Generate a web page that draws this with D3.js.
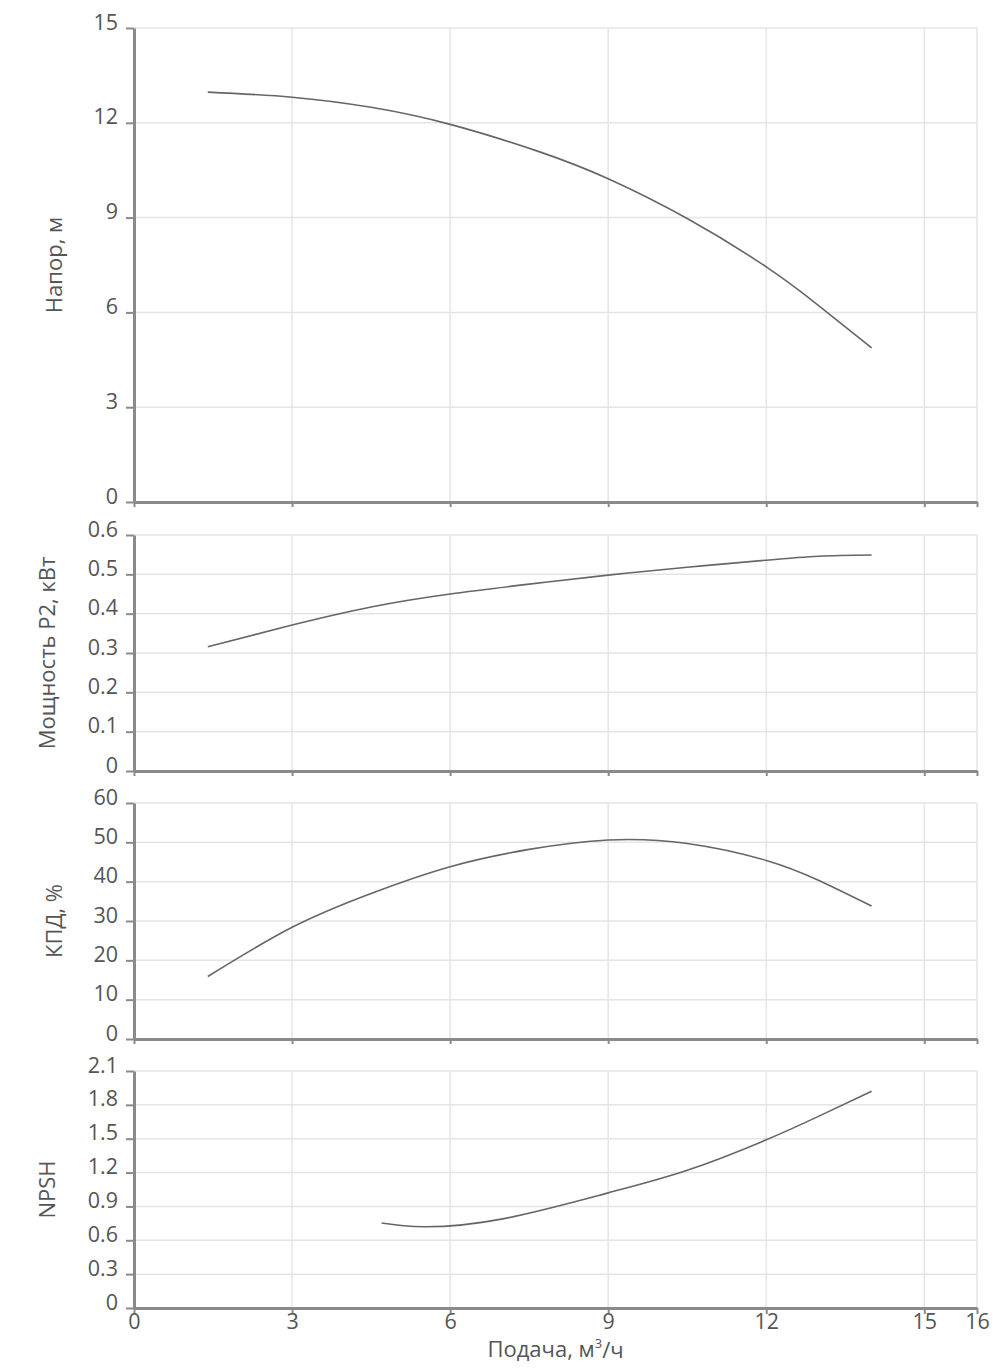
<!DOCTYPE html>
<meta charset="utf-8">
<style>
  body { margin: 0; background: #fff; }
  svg { display: block; }
  .grid line { stroke: #e4e4ea; stroke-width: 1.5; }
  .axis path, .axis line { stroke: #8a8a8a; }
  .axis path { stroke-width: 3; }
  .axis line { stroke-width: 2; }
  .axis text { fill: #555; font-family: "Open Sans", sans-serif; font-size: 21.5px; }
  .title { fill: #555; font-family: "Open Sans", sans-serif; font-size: 22px; }
  .curve { fill: none; stroke: #666; stroke-width: 1.6; }
</style>
<body></body>
<script src="https://cdn.jsdelivr.net/npm/d3@7"></script>
<script>
  // x axis (подача)
  const xTicks = [0, 3, 6, 9, 12, 15, 16];

  // напор
  const headFlow = [1.4, 3, 4.5, 6, 7.7, 9, 10.5, 12, 13, 14];
  const head = [12.97, 12.81, 12.49, 11.95, 11.08, 10.23, 8.97, 7.44, 6.21, 4.88];
  const headTicks = [0, 3, 6, 9, 12, 15];

  // мощность P2
  const powerFlow = [1.4, 3, 4.5, 6, 7.5, 9, 10.5, 12, 13, 14];
  const power = [0.316, 0.371, 0.417, 0.450, 0.475, 0.498, 0.518, 0.536, 0.546, 0.549];
  const powerTicks = ['0', '0.1', '0.2', '0.3', '0.4', '0.5', '0.6'];

  // КПД
  const effFlow = [1.4, 3, 4.5, 6, 7.5, 9, 10.5, 12, 13, 14];
  const eff = [15.9, 28.4, 37.0, 43.8, 48.2, 50.6, 49.7, 45.4, 40.3, 33.8];
  const effTicks = [0, 10, 20, 30, 40, 50, 60];

  // NPSH
  const npshFlow = [4.7, 5.5, 7, 9, 10.5, 12, 13, 14];
  const npsh = [0.753, 0.72, 0.79, 1.02, 1.22, 1.49, 1.70, 1.92];
  const npshTicks = ['0', '0.3', '0.6', '0.9', '1.2', '1.5', '1.8', '2.1'];

  const W = 1000, H = 1371;
  const l = 134, r = 977;

  const svg = d3.select('body').append('svg')
    .attr('width', W).attr('height', H);

  const x = d3.scaleLinear().domain([0, 16]).range([l, r]);

  const panels = [
    {title: 'Напор, м', top: 28, bottom: 502, ticks: headTicks, fx: headFlow, fy: head, titleX: 62},
    {title: 'Мощность P2, кВт', top: 535, bottom: 771, ticks: powerTicks, fx: powerFlow, fy: power, titleX: 55},
    {title: 'КПД, %', top: 803, bottom: 1039, ticks: effTicks, fx: effFlow, fy: eff, titleX: 62},
    {title: 'NPSH', top: 1071, bottom: 1308, ticks: npshTicks, fx: npshFlow, fy: npsh, titleX: 55},
  ];

  panels.forEach((p, i) => {
    const tv = p.ticks.map(Number);
    const y = d3.scaleLinear().domain([0, d3.max(tv)]).range([p.bottom, p.top]);
    const g = svg.append('g');

    // grid
    const grid = g.append('g').attr('class', 'grid');
    grid.selectAll('line.h')
      .data(tv.filter(d => d > 0))
      .join('line').attr('class', 'h')
      .attr('x1', l).attr('x2', r)
      .attr('y1', d => y(d)).attr('y2', d => y(d));
    grid.selectAll('line.v')
      .data(xTicks.filter(d => d > 0))
      .join('line').attr('class', 'v')
      .attr('x1', d => x(d)).attr('x2', d => x(d))
      .attr('y1', p.top).attr('y2', p.bottom);

    // curve
    const pts = p.fx.map((fx, k) => [fx, p.fy[k]]);
    g.append('path')
      .attr('class', 'curve')
      .attr('d', d3.line()
        .x(d => x(d[0])).y(d => y(d[1]))
        .curve(d3.curveNatural)(pts));

    // left axis
    const ya = g.append('g').attr('class', 'axis')
      .attr('transform', `translate(${l},0)`)
      .call(d3.axisLeft(y).tickValues(tv)
        .tickFormat((d, k) => p.ticks[k])
        .tickSize(8).tickSizeOuter(0).tickPadding(8));
    ya.selectAll('text').attr('dy', '0.05em');

    // bottom axis
    const last = i === panels.length - 1;
    const xa = g.append('g').attr('class', 'axis')
      .attr('transform', `translate(0,${p.bottom})`)
      .call(d3.axisBottom(x).tickValues(xTicks)
        .tickSize(last ? 6 : 5).tickSizeOuter(0).tickPadding(0)
        .tickFormat(last ? d3.format('d') : () => ''));
    xa.selectAll('text').attr('dy', '0.72em');

    // title
    g.append('text')
      .attr('class', 'title')
      .attr('text-anchor', 'middle')
      .attr('transform', `translate(${p.titleX},${(p.top + p.bottom) / 2}) rotate(-90)`)
      .text(p.title);
  });

  const xt = svg.append('text')
    .attr('class', 'title')
    .attr('text-anchor', 'middle')
    .attr('x', (l + r) / 2).attr('y', 1357);
  xt.append('tspan').text('Подача, м');
  xt.append('tspan').attr('font-size', '13px').attr('dy', '-0.7em').text('3');
  xt.append('tspan').attr('dy', '0.45em').text('/ч');
</script>
